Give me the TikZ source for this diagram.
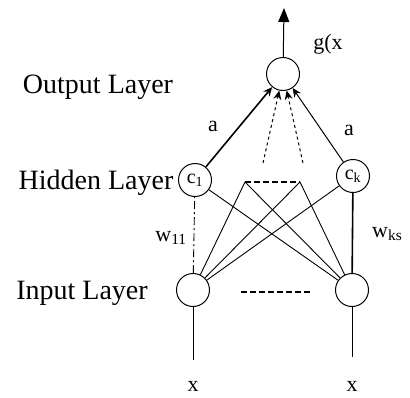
\documentclass[tikz,border=0pt]{standalone}
\usepackage{fontspec}
\setmainfont{Liberation Serif}
\usetikzlibrary{arrows.meta}
\begin{document}
\begin{tikzpicture}[x=1pt,y=-1pt,
  neuron/.style={circle,draw,line width=1pt,minimum size=33pt,inner sep=0pt,font=\fontsize{20}{22}\selectfont},
  layerlab/.style={font=\fontsize{28}{30}\selectfont,inner sep=0pt},
  lab/.style={font=\fontsize{22}{24}\selectfont,inner sep=0pt},
  conn/.style={line width=0.9pt},
  toout/.style={line width=1pt,-{Stealth[length=9pt,width=8pt]}},
  dots/.style={line width=1.2pt,dash pattern=on 6pt off 3pt},
]
\useasboundingbox (0,0) rectangle (410,397);
% nodes
\node[neuron] (out) at (283,74) {};
\node[neuron] (c1) at (195,180) {c\textsubscript{1}};
\node[neuron] (ck) at (353,176) {c\textsubscript{k}};
\node[neuron] (in1) at (193,290) {};
\node[neuron] (in2) at (352,290) {};
\coordinate (top) at (284,8);
\coordinate (hl) at (245,182);
\coordinate (hr) at (300,182);
\coordinate (m1) at (263,163);
\coordinate (m2) at (303,163);
\coordinate (il) at (241,292);
\coordinate (ir) at (311,292);
\coordinate (x1e) at (193,360);
\coordinate (x2e) at (352,357);
% labels
\node[layerlab] (lo) at (98,87) {Output Layer};
\node[layerlab] (lh) at (96,183) {Hidden Layer};
\node[layerlab] (li) at (82,293) {Input Layer};
\node[lab] (g) at (328,44) {g(x};
\node[lab] (a1) at (213,126) {a};
\node[lab] (a2) at (349,130) {a};
\node[lab] (w1) at (171,238) {w\textsubscript{11}};
\node[lab,anchor=west] (w2) at (372,234) {w\textsubscript{ks}};
\node[lab] (x1) at (193,386) {x};
\node[lab] (x2) at (352,386) {x};
% output arrow
\draw[line width=1pt,-{Triangle[length=14pt,width=11pt]}] (out) -- (top);
% hidden to output
\draw[toout,line width=1.6pt] (c1) -- (out);
\draw[toout] (ck) -- (out);
\draw[toout,dashed] (m1) -- (out);
\draw[toout,dashed] (m2) -- (out);
\draw[dots] (hl) -- (hr);
\draw[dots] (il) -- (ir);
% input to hidden
\draw[conn,dash pattern=on 8pt off 3pt on 2pt off 3pt] (in1) -- (c1);
\draw[line width=1.6pt] (in2) -- (ck);
\draw[conn] (in1) -- (hl);
\draw[conn] (in1) -- (hr);
\draw[conn] (in1) -- (ck);
\draw[conn] (in2) -- (c1);
\draw[conn] (in2) -- (hl);
\draw[conn] (in2) -- (hr);
% inputs
\draw[conn] (in1) -- (x1e);
\draw[conn] (in2) -- (x2e);
\end{tikzpicture}
\end{document}
